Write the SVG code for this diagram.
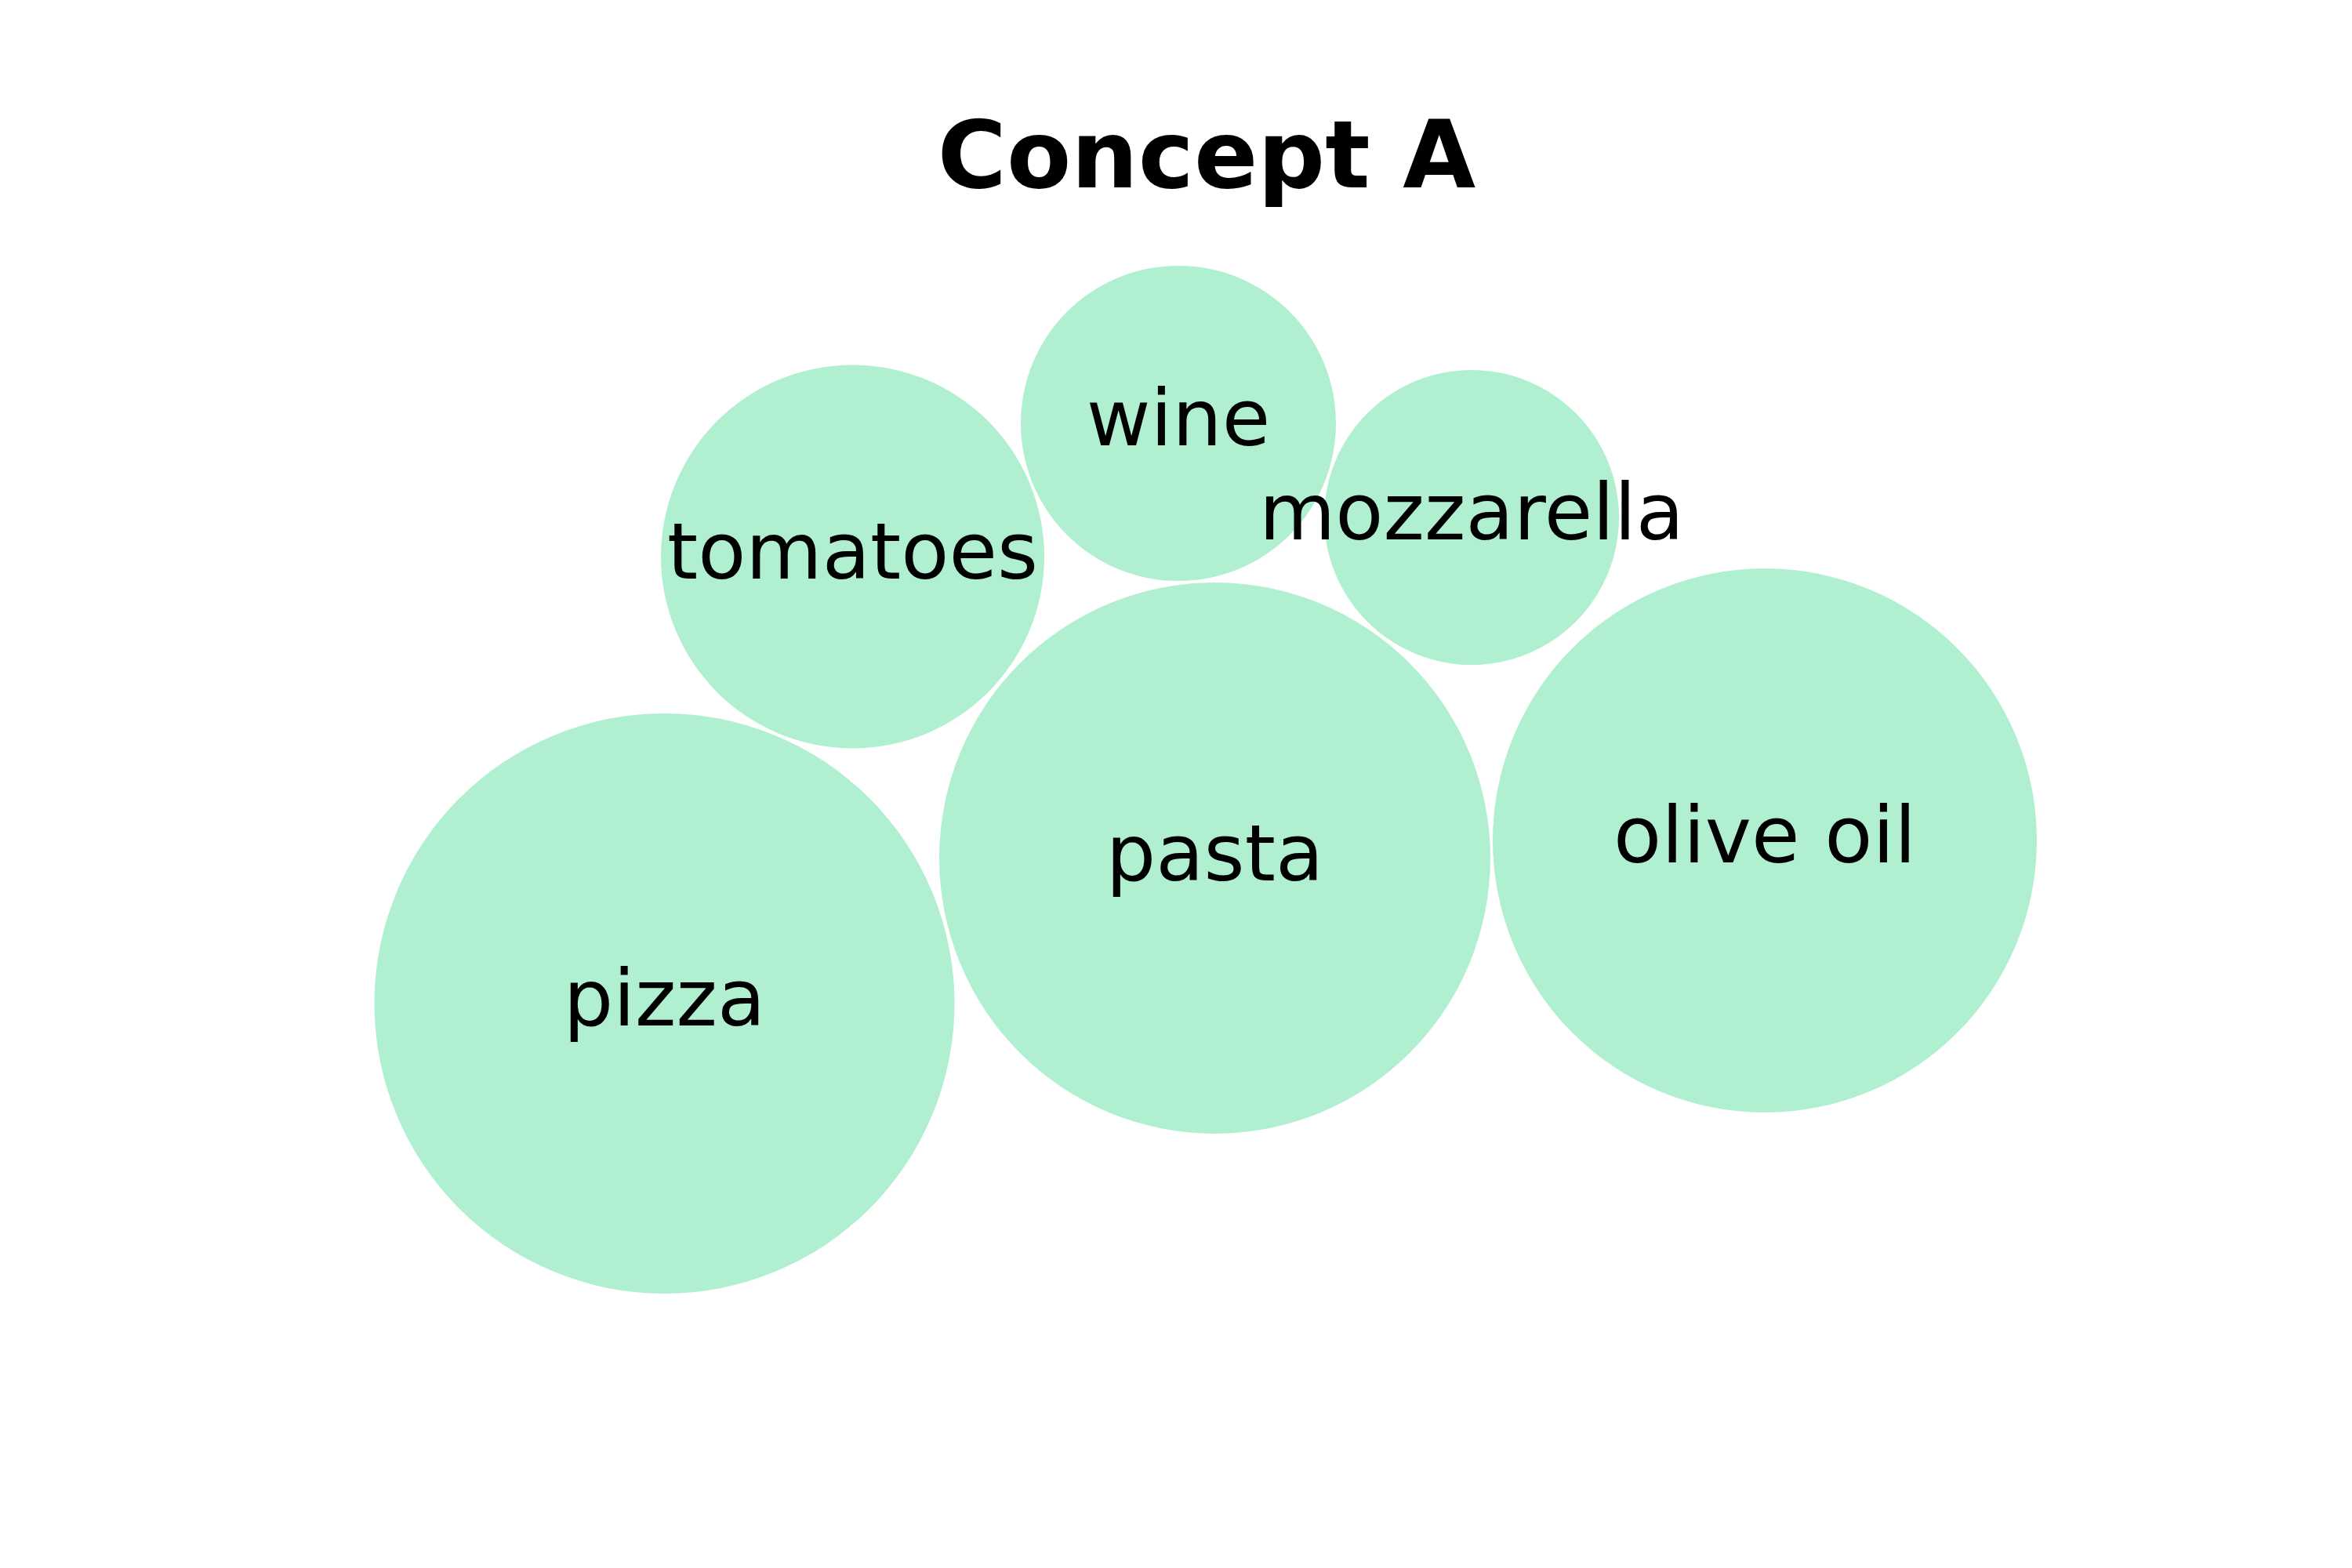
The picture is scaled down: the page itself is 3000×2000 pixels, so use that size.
<svg xmlns="http://www.w3.org/2000/svg" width="3000" height="2000" viewBox="0 0 3000 2000">
<style>
.b{fill:#b0f0d0;stroke:none}
.l{font-family:"DejaVu Sans",sans-serif;font-size:100px;fill:#000;text-anchor:middle}
.t{font-family:"DejaVu Sans",sans-serif;font-size:120px;font-weight:bold;fill:#000;text-anchor:middle}
</style>
<rect width="3000" height="2000" fill="#ffffff"/>
<text class="t" x="1539" y="239">Concept A</text>
<g id="connectors"></g>
<g id="pizza"><circle class="b" cx="847.5" cy="1280" r="370"/><text class="l" x="847.5" y="1308">pizza</text></g>
<g id="pasta"><circle class="b" cx="1549.5" cy="1094.5" r="351.5"/><text class="l" x="1549.5" y="1122.5">pasta</text></g>
<g id="olive-oil"><circle class="b" cx="2251" cy="1072" r="347"/><text class="l" x="2251" y="1100">olive oil</text></g>
<g id="tomatoes"><circle class="b" cx="1087.5" cy="710" r="244.5"/><text class="l" x="1087.5" y="738">tomatoes</text></g>
<g id="wine"><circle class="b" cx="1503" cy="540" r="201"/><text class="l" x="1503" y="568">wine</text></g>
<g id="mozzarella"><circle class="b" cx="1877" cy="660" r="188"/><text class="l" x="1877" y="688">mozzarella</text></g>
</svg>
